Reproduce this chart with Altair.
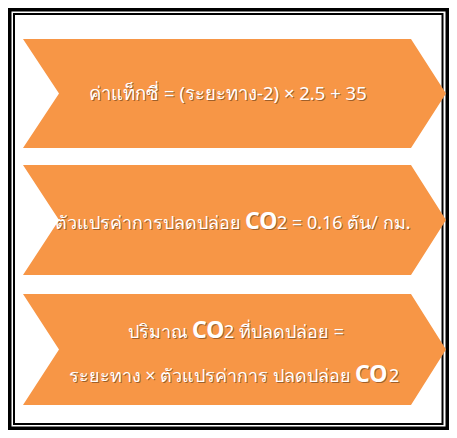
import altair as alt
import pandas as pd

# ---- content -------------------------------------------------------------
box_titles = ["taxi_fare", "emission_factor", "co2_amount"]

# text segments
seg_line = ["l1", "l2", "l2", "l2", "l3", "l3", "l3", "l4", "l4", "l4"]
seg_text = [
    "ค่าแท็กซี่ = (ระยะทาง-2) × 2.5 + 35",
    "ตัวแปรค่าการปลดปล่อย", "CO", "2 = 0.16 ตัน/ กม.",
    "ปริมาณ", "CO", "2 ที่ปลดปล่อย =",
    "ระยะทาง × ตัวแปรค่าการ ปลดปล่อย", "CO", "2",
]
seg_kind = ["big", "reg", "bold", "reg", "reg", "bold", "reg", "reg", "bold", "reg"]

# ---- layout (page pixel coordinates) ------------------------------------
ORANGE = "#F79646"
box_top = [39, 165, 294]
box_bot = [148, 275, 405]
box_left, box_notch, box_right, box_tip = 23, 59, 411, 446

seg_x = [228, 241, 245, 277, 188, 192, 224, 351, 355, 389]
seg_y = [100, 229, 229, 229, 338, 338, 338, 382, 382, 382]
seg_align = ["center", "right", "left", "left", "right", "left", "left",
             "right", "left", "left"]


def poly(ring, kind):
    return {"type": "Feature", "properties": {"kind": kind},
            "geometry": {"type": "Polygon", "coordinates": [ring]}}


def rect_ring(x0, y0, x1, y1):
    return [[x0, y0], [x0, y1], [x1, y1], [x1, y0], [x0, y0]]


feats = []
for t, b, name in zip(box_top, box_bot, box_titles):
    m = (t + b) / 2
    ring = [[box_left, t], [box_right, t], [box_tip, m], [box_right, b],
            [box_left, b], [box_notch, m], [box_left, t]]
    feats.append(poly(ring, "chevron"))

proj = dict(type="identity", scale=1, translate=[-8, -8])

frame_rects = [
    (rect_ring(8, 8, 449, 430), "black"),
    (rect_ring(11.5, 11.5, 445.5, 426.5), "white"),
    (rect_ring(13, 13, 443.5, 425), "black"),
    (rect_ring(15, 15, 441.5, 423), "white"),
]
layers = []
for ring, col in frame_rects:
    layers.append(
        alt.Chart(alt.Data(values=[poly(ring, col)])).mark_geoshape(
            fill=col, strokeWidth=0
        ).project(**proj)
    )

layers.append(
    alt.Chart(alt.Data(values=feats)).mark_geoshape(
        fill=ORANGE, strokeWidth=0
    ).project(**proj)
)

df = pd.DataFrame({"line": seg_line, "text": seg_text, "kind": seg_kind,
                   "px": seg_x, "py": seg_y, "anchor": seg_align})

xs = alt.Scale(domain=[8, 449], zero=False, nice=False)
ys = alt.Scale(domain=[8, 430], zero=False, nice=False, reverse=True)

FONT = "Noto Sans"
styles = [("big", 18.5, "normal"), ("reg", 18, "normal"), ("bold", 23, "bold")]
for kind, size, weight in styles:
    for align in ["left", "center", "right"]:
        sub = df[(df["kind"] == kind) & (df["anchor"] == align)]
        if sub.empty:
            continue
        base = alt.Chart(sub).encode(
            x=alt.X("px:Q", scale=xs, axis=None),
            y=alt.Y("py:Q", scale=ys, axis=None),
            text="text:N",
        )
        shadow = base.mark_text(
            align=align, baseline="alphabetic", font=FONT, fontSize=size,
            fontWeight=weight, color="#4a2a10", opacity=0.5, dx=1, dy=1.3
        )
        fg = base.mark_text(
            align=align, baseline="alphabetic", font=FONT, fontSize=size,
            fontWeight=weight, color="white"
        )
        layers += [shadow, fg]

chart = alt.layer(*layers).properties(
    width=441, height=422, background="white",
    autosize=alt.AutoSizeParams(type="none"), padding=0
).configure_view(stroke=None)

chart.save("out.html", embed_options={"renderer": "svg", "actions": False})
